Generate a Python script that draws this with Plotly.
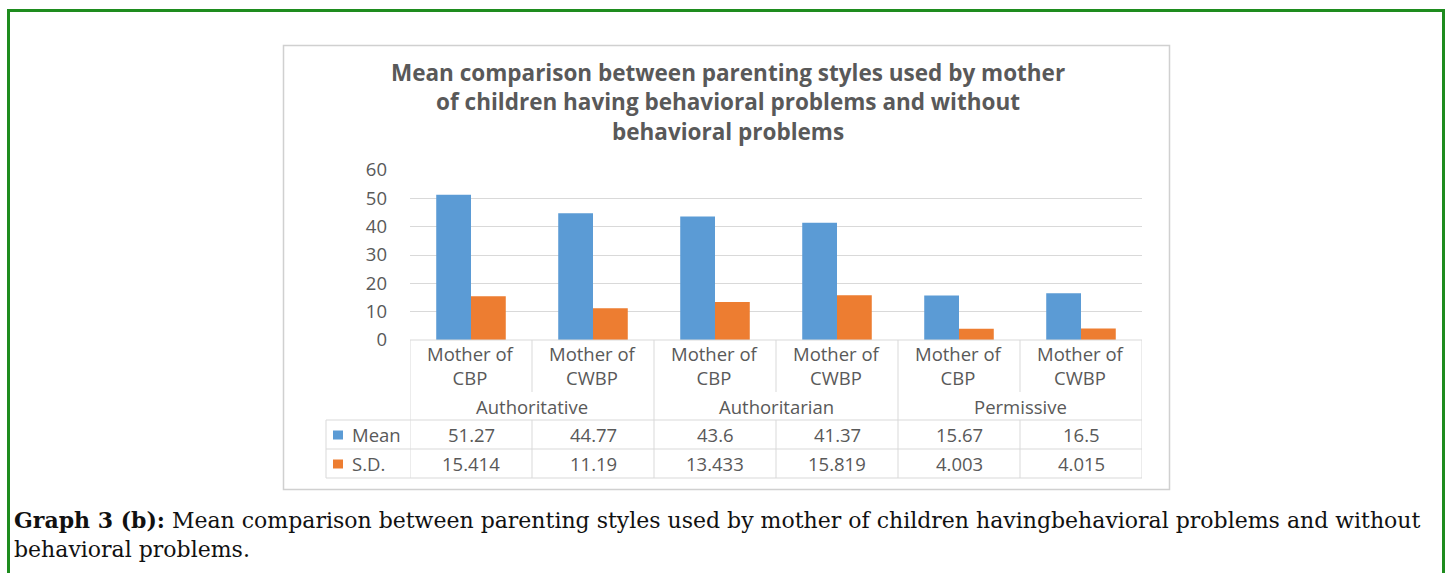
import plotly.graph_objects as go

# ---- data ----
groups = ["Mother of<br>CBP", "Mother of<br>CWBP", "Mother of<br>CBP", "Mother of<br>CWBP", "Mother of<br>CBP", "Mother of<br>CWBP"]
styles = ["Authoritative", "Authoritarian", "Permissive"]
mean_vals = [51.27, 44.77, 43.6, 41.37, 15.67, 16.5]
sd_vals = [15.414, 11.19, 13.433, 15.819, 4.003, 4.015]
mean_labels = ["51.27", "44.77", "43.6", "41.37", "15.67", "16.5"]
sd_labels = ["15.414", "11.19", "13.433", "15.819", "4.003", "4.015"]
series_names = ["Mean", "S.D."]
y_ticks = [0, 10, 20, 30, 40, 50, 60]

title_text = ("<b>Mean comparison between parenting styles used by mother<br>"
              "of children having behavioral problems and without<br>"
              "behavioral problems</b>")
caption_l1 = ("<b>Graph 3 (b):</b> Mean comparison between parenting styles used by mother "
              "of children havingbehavioral problems and without")
caption_l2 = "behavioral problems."

BLUE = "#5B9BD5"
ORANGE = "#ED7D31"
GRID = "#D9D9D9"
TXT = "#595959"
FONT = "Open Sans"

W, H = 1448, 573
PL, PR, PT, PB = 410, 1142, 170, 340  # plot area in pixels


def px_x(px):
    return (px - PL) / (PR - PL)


def px_y(py):
    return (PB - py) / (PB - PT)


xs = list(range(len(groups)))

fig = go.Figure()
fig.add_trace(go.Bar(x=xs, y=mean_vals, name=series_names[0], marker_color=BLUE,
                     marker_line_width=0))
fig.add_trace(go.Bar(x=xs, y=sd_vals, name=series_names[1], marker_color=ORANGE,
                     marker_line_width=0))

shapes = []
annotations = []

# outer green frame
shapes.append(dict(type="rect", xref="paper", yref="paper",
                   x0=px_x(8.5), x1=px_x(1443.5), y0=px_y(585), y1=px_y(10.5),
                   line=dict(color="#1E8C1E", width=3), layer="below"))
# chart box
shapes.append(dict(type="rect", xref="paper", yref="paper",
                   x0=px_x(283.5), x1=px_x(1169.5), y0=px_y(489.5), y1=px_y(45.5),
                   line=dict(color="#D0D0D0", width=1.5), layer="below"))

LINE = dict(color=GRID, width=1)
# table horizontal lines
for py, x0 in [(340, PL), (420, 326), (449, 326), (478, 326)]:
    shapes.append(dict(type="line", xref="paper", yref="paper",
                       x0=px_x(x0), x1=1, y0=px_y(py), y1=px_y(py), line=LINE))
# table vertical lines
n = len(groups)
for i in range(n + 1):
    xb = i - 0.5
    y_bot = 478 if (i in (0, n) or i % 2 == 0) else 392
    shapes.append(dict(type="line", xref="x", yref="paper",
                       x0=xb, x1=xb, y0=px_y(340), y1=px_y(y_bot), line=LINE))
    if i % 2 == 1:
        shapes.append(dict(type="line", xref="x", yref="paper",
                           x0=xb, x1=xb, y0=px_y(420), y1=px_y(478), line=LINE))
shapes.append(dict(type="line", xref="paper", yref="paper",
                   x0=px_x(326), x1=px_x(326), y0=px_y(420), y1=px_y(478), line=LINE))

tfont = dict(family=FONT, size=18.5, color=TXT)
for i, g in enumerate(groups):
    annotations.append(dict(x=i, y=px_y(365), xref="x", yref="paper", text=g,
                            showarrow=False, font=tfont, align="center",
                            xanchor="center", yanchor="middle"))
    annotations.append(dict(x=i, y=px_y(434.5), xref="x", yref="paper", text=mean_labels[i],
                            showarrow=False, font=tfont, xanchor="center", yanchor="middle"))
    annotations.append(dict(x=i, y=px_y(463.5), xref="x", yref="paper", text=sd_labels[i],
                            showarrow=False, font=tfont, xanchor="center", yanchor="middle"))
for k, s in enumerate(styles):
    annotations.append(dict(x=2 * k + 0.5, y=px_y(406), xref="x", yref="paper", text=s,
                            showarrow=False, font=tfont, xanchor="center", yanchor="middle"))
# legend keys inside the table
for name, col, py in [(series_names[0], BLUE, 435), (series_names[1], ORANGE, 464)]:
    shapes.append(dict(type="rect", xref="paper", yref="paper",
                       x0=px_x(333), x1=px_x(343), y0=px_y(py + 4.5), y1=px_y(py - 4.5),
                       fillcolor=col, line=dict(width=0)))
    annotations.append(dict(x=px_x(350), y=px_y(py - 0.5), xref="paper", yref="paper", text=name,
                            showarrow=False, xanchor="left", yanchor="middle", font=tfont))

# title
annotations.append(dict(x=px_x(728), y=px_y(102), xref="paper", yref="paper", text=title_text,
                        showarrow=False, font=dict(family=FONT, size=22.5, color=TXT),
                        align="center", xanchor="center", yanchor="middle"))
# caption
cfont = dict(family="DejaVu Serif", size=22, color="#111111")
annotations.append(dict(x=px_x(12), y=px_y(520), xref="paper", yref="paper", text=caption_l1,
                        showarrow=False, xanchor="left", yanchor="middle", font=cfont))
annotations.append(dict(x=px_x(12), y=px_y(549), xref="paper", yref="paper", text=caption_l2,
                        showarrow=False, xanchor="left", yanchor="middle", font=cfont))

fig.update_layout(
    width=W, height=H,
    margin=dict(l=PL, r=W - PR, t=PT, b=H - PB, pad=0),
    paper_bgcolor="white", plot_bgcolor="white",
    barmode="group", bargap=0.43, bargroupgap=0,
    showlegend=False,
    shapes=shapes, annotations=annotations,
    xaxis=dict(range=[-0.5, n - 0.5], showticklabels=False, showgrid=False,
               zeroline=False, showline=False, ticks=""),
    yaxis=dict(range=[0, 60], tickvals=y_ticks, showgrid=True, gridcolor=GRID,
               gridwidth=1, zeroline=False, showline=False,
               tickfont=dict(family=FONT, size=18.5, color=TXT),
               ticklabelstandoff=22),
)

fig.write_html("out.html", config={"displayModeBar": False},
               post_script="document.body.style.margin='0';document.body.style.overflow='hidden';")
